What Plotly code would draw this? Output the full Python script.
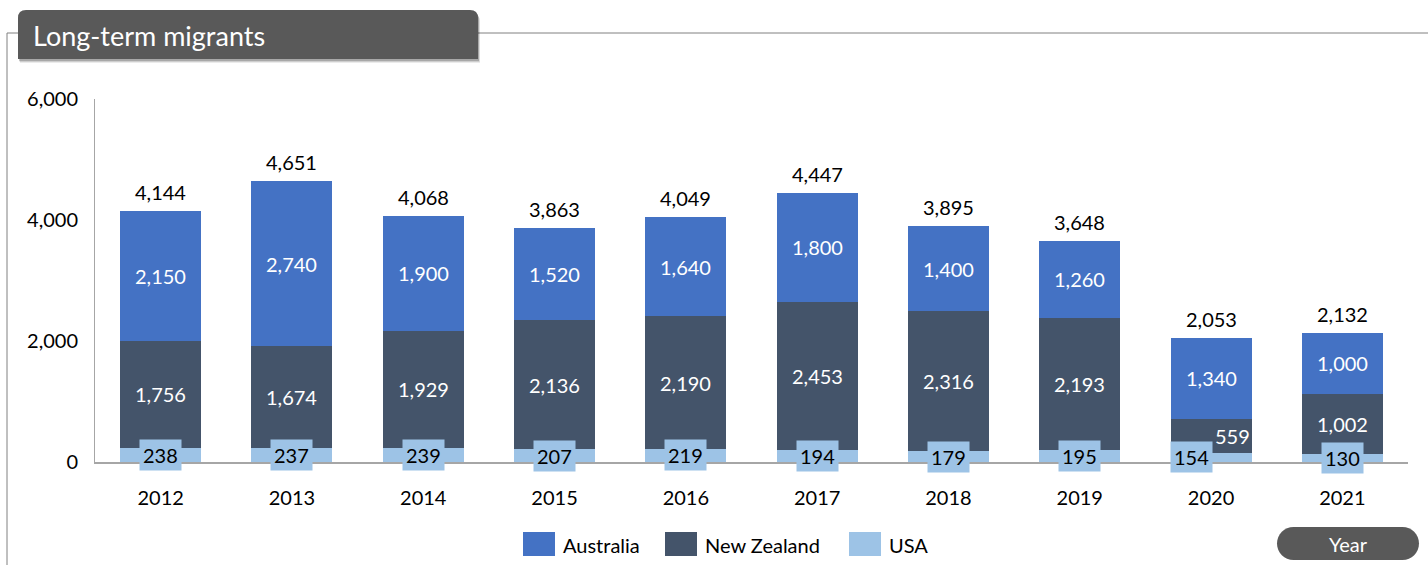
import plotly.graph_objects as go

# Long-term migrants by country of destination, per year
years = ["2012", "2013", "2014", "2015", "2016", "2017", "2018", "2019", "2020", "2021"]
usa = [238, 237, 239, 207, 219, 194, 179, 195, 154, 130]
new_zealand = [1756, 1674, 1929, 2136, 2190, 2453, 2316, 2193, 559, 1002]
australia = [2150, 2740, 1900, 1520, 1640, 1800, 1400, 1260, 1340, 1000]
series_names = ["Australia", "New Zealand", "USA"]
y_ticks = [0, 2000, 4000, 6000]

totals = [a + n + u for a, n, u in zip(australia, new_zealand, usa)]

C_AUS = "#4472C4"
C_NZ = "#44546A"
C_USA = "#9DC3E6"
C_BOX = "#595959"
C_LINE = "#A6A6A6"
FONT = "Lato, 'Open Sans', sans-serif"
FS = 20

# page and plot-area geometry (pixels)
W, H = 1428, 565
L, R, T, B = 95, 20, 99, 103
PW, PH = W - L - R, H - T - B


def px(x):
    return (x - L) / PW


def py(y):
    return (H - B - y) / PH


fig = go.Figure()
for name, vals, col in [("USA", usa, C_USA), ("New Zealand", new_zealand, C_NZ),
                        ("Australia", australia, C_AUS)]:
    fig.add_trace(go.Bar(x=years, y=vals, name=name, marker=dict(color=col, line=dict(width=0)),
                         hoverinfo="x+y+name", showlegend=False))

ann = []
# the small 2020 segments get their labels nudged apart
nudge_usa = {"2020": -20}
nudge_nz = {"2020": 21}
for i, yr in enumerate(years):
    u, n, a, t = usa[i], new_zealand[i], australia[i], totals[i]
    ann.append(dict(x=i, y=u / 2, text=f"{u:,}", showarrow=False, xshift=nudge_usa.get(yr, 0),
                    font=dict(family=FONT, size=FS, color="#000000"), bgcolor=C_USA, borderpad=3))
    ann.append(dict(x=i, y=u + n / 2, text=f"{n:,}", showarrow=False, xshift=nudge_nz.get(yr, 0),
                    font=dict(family=FONT, size=FS, color="#FFFFFF")))
    ann.append(dict(x=i, y=u + n + a / 2, text=f"{a:,}", showarrow=False,
                    font=dict(family=FONT, size=FS, color="#FFFFFF")))
    ann.append(dict(x=i, y=t, text=f"{t:,}", showarrow=False, yanchor="bottom", yshift=5,
                    font=dict(family=FONT, size=FS, color="#000000")))

shapes = []
# outer frame lines
shapes.append(dict(type="line", xref="paper", yref="paper", x0=px(7), x1=px(18), y0=py(33), y1=py(33),
                   line=dict(color="#808080", width=1)))
shapes.append(dict(type="line", xref="paper", yref="paper", x0=px(478), x1=px(W), y0=py(33), y1=py(33),
                   line=dict(color="#808080", width=1)))
shapes.append(dict(type="line", xref="paper", yref="paper", x0=px(7), x1=px(7), y0=py(33), y1=py(H),
                   line=dict(color="#808080", width=1)))


def tab_path(x0, y0, x1, y1, r):
    return (f"M {px(x0)},{py(y1)} L {px(x0)},{py(y0 + r)} Q {px(x0)},{py(y0)} {px(x0 + r)},{py(y0)} "
            f"L {px(x1 - r)},{py(y0)} Q {px(x1)},{py(y0)} {px(x1)},{py(y0 + r)} L {px(x1)},{py(y1)} Z")


# title tab with soft shadow
for off, alpha in [(4, 0.08), (3, 0.12), (2, 0.18)]:
    shapes.append(dict(type="path", xref="paper", yref="paper", path=tab_path(18 + off / 2, 10 + off, 478 + off / 2, 59 + off, 8),
                       fillcolor=f"rgba(0,0,0,{alpha})", line=dict(width=0), layer="above"))
shapes.append(dict(type="path", xref="paper", yref="paper", path=tab_path(18, 10, 478, 59, 8),
                   fillcolor=C_BOX, line=dict(width=0), layer="above"))
ann.append(dict(xref="paper", yref="paper", x=px(31), y=py(35), xanchor="left", yanchor="middle",
                text="Long-term migrants", showarrow=False, font=dict(family=FONT, size=27, color="#FFFFFF")))


def pill_path(x0, y0, x1, y1):
    r = (y1 - y0) / 2
    k = r * 0.55
    return (f"M {px(x0 + r)},{py(y0)} L {px(x1 - r)},{py(y0)} "
            f"C {px(x1 - r + k)},{py(y0)} {px(x1)},{py(y0 + r - k)} {px(x1)},{py(y0 + r)} "
            f"C {px(x1)},{py(y1 - r + k)} {px(x1 - r + k)},{py(y1)} {px(x1 - r)},{py(y1)} "
            f"L {px(x0 + r)},{py(y1)} "
            f"C {px(x0 + r - k)},{py(y1)} {px(x0)},{py(y1 - r + k)} {px(x0)},{py(y1 - r)} "
            f"C {px(x0)},{py(y0 + r - k)} {px(x0 + r - k)},{py(y0)} {px(x0 + r)},{py(y0)} Z")


# axis title pill
shapes.append(dict(type="path", xref="paper", yref="paper", path=pill_path(1277, 527, 1419, 560),
                   fillcolor=C_BOX, line=dict(width=0)))
ann.append(dict(xref="paper", yref="paper", x=px(1348), y=py(543.5), xanchor="center", yanchor="middle",
                text="Year", showarrow=False, font=dict(family=FONT, size=FS, color="#FFFFFF")))

# legend keys
legend_cols = {"Australia": C_AUS, "New Zealand": C_NZ, "USA": C_USA}
legend_x = {"Australia": 523, "New Zealand": 665, "USA": 849}
for name in series_names:
    x0 = legend_x[name]
    shapes.append(dict(type="rect", xref="paper", yref="paper", x0=px(x0), x1=px(x0 + 32), y0=py(532), y1=py(556),
                       fillcolor=legend_cols[name], line=dict(width=0)))
    ann.append(dict(xref="paper", yref="paper", x=px(x0 + 38), y=py(545), xanchor="left", yanchor="middle",
                    text=name, showarrow=False, font=dict(family=FONT, size=FS, color="#000000")))

fig.update_layout(
    barmode="stack",
    bargap=0.383,
    width=W, height=H,
    margin=dict(l=L, r=R, t=T, b=B, pad=0),
    paper_bgcolor="#FFFFFF", plot_bgcolor="#FFFFFF",
    font=dict(family=FONT, size=FS, color="#000000"),
    annotations=ann,
    shapes=shapes,
    showlegend=False,
    xaxis=dict(type="category", range=[-0.5, len(years) - 0.5], showline=True, linecolor=C_LINE,
               linewidth=1.5, showgrid=False, ticks="", ticklabelstandoff=17,
               tickfont=dict(family=FONT, size=FS, color="#000000"), zeroline=False),
    yaxis=dict(range=[0, 6000], tickvals=y_ticks, tickformat=",d", showline=True, linecolor=C_LINE,
               linewidth=1, showgrid=False, zeroline=False, ticks="", ticklabelstandoff=12,
               tickfont=dict(family=FONT, size=FS, color="#000000")),
)

fig.write_html("out.html")
